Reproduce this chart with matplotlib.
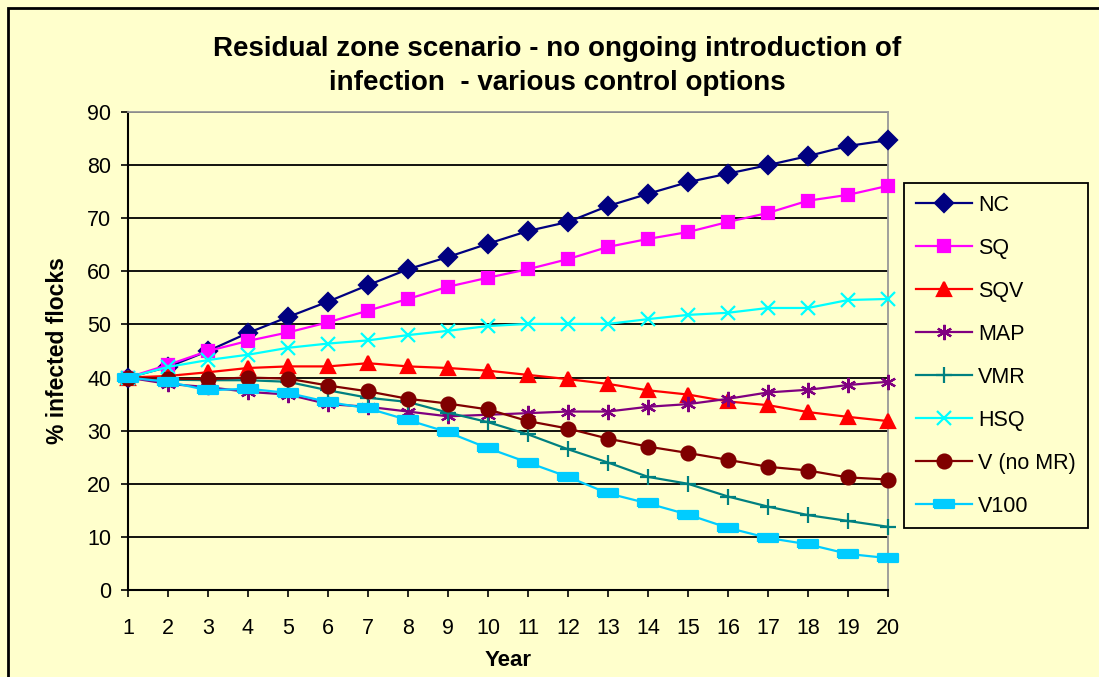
import matplotlib
matplotlib.use('Agg')
import matplotlib.pyplot as plt
from matplotlib.patches import Rectangle

plt.rcParams['font.family'] = ['Liberation Sans', 'DejaVu Sans']

# data
years = list(range(1, 21))
NC = [40, 42, 45, 48.4, 51.4, 54.3, 57.4, 60.4, 62.7, 65.2, 67.6, 69.3, 72.3, 74.6, 76.8, 78.4, 80, 81.7, 83.6, 84.7]
SQ = [40, 42.4, 45, 46.9, 48.5, 50.4, 52.6, 54.8, 57.1, 58.8, 60.4, 62.3, 64.6, 66.1, 67.4, 69.3, 71, 73.3, 74.4, 76.1]
SQV = [40, 40.3, 41, 41.8, 42.1, 42.1, 42.7, 42.1, 41.8, 41.3, 40.5, 39.7, 38.8, 37.6, 36.8, 35.5, 34.8, 33.5, 32.6, 31.8]
MAP = [40, 38.8, 38.2, 37.3, 36.8, 35, 34.5, 33.6, 32.7, 33, 33.3, 33.6, 33.6, 34.5, 35, 36, 37.2, 37.7, 38.6, 39.2]
VMR = [40, 39.6, 39.5, 39.5, 39.2, 37.6, 36.2, 35.4, 33.4, 31.6, 29.3, 26.5, 24, 21.3, 20, 17.6, 15.7, 14.1, 13, 11.9]
HSQ = [40, 42, 43.3, 44.3, 45.6, 46.4, 47, 48, 48.8, 49.7, 50.1, 50.1, 50.1, 51, 51.8, 52.2, 53.1, 53.1, 54.6, 54.8]
VnoMR = [40, 39.8, 39.7, 40, 39.8, 38.5, 37.4, 36, 35.1, 34, 31.8, 30.4, 28.5, 27, 25.8, 24.5, 23.2, 22.5, 21.2, 20.8]
V100 = [40, 39.2, 37.6, 37.9, 37.1, 35.4, 34.2, 32, 29.7, 26.7, 24, 21.3, 18.2, 16.3, 14.2, 11.7, 9.8, 8.6, 6.8, 6]

bg = '#FFFFCC'
dash = [(-1, -0.38), (1, -0.38), (1, 0.38), (-1, 0.38), (-1, -0.38)]

series = [
    ('NC', NC, '#000080', 'D', 9),
    ('SQ', SQ, '#FF00FF', 's', 9),
    ('SQV', SQV, '#FF0000', '^', 10),
    ('MAP', MAP, '#800080', (6, 2, 0), 11),
    ('VMR', VMR, '#008080', '+', 11),
    ('HSQ', HSQ, '#00FFFF', 'x', 10),
    ('V (no MR)', VnoMR, '#800000', 'o', 10),
    ('V100', V100, '#00CCFF', dash, 14),
]

fig = plt.figure(figsize=(10.99, 6.77), dpi=100, facecolor=bg)
ax = fig.add_axes([128/1099, 1-590/677, (888-128)/1099, (590-112)/677])
ax.set_facecolor(bg)

for name, vals, col, mk, ms in series:
    ax.plot(years, vals, color=col, lw=1.6, marker=mk, markersize=ms,
            markerfacecolor=col, markeredgecolor=col, markeredgewidth=1.6,
            label=name, clip_on=False, zorder=3)

ax.set_xlim(1, 20)
ax.set_ylim(0, 90)
ax.set_xticks(years)
ax.set_yticks(range(0, 91, 10))
ax.yaxis.grid(True, color='black', lw=1.3)
ax.set_axisbelow(True)
ax.tick_params(axis='both', direction='out', length=5, width=1.2, labelsize=15.5, colors='black')
ax.tick_params(axis='x', pad=15)
ax.tick_params(axis='y', pad=7)
for s in ['top', 'right']:
    ax.spines[s].set_color('#999999')
    ax.spines[s].set_linewidth(1.3)
for s in ['left', 'bottom']:
    ax.spines[s].set_color('black')
    ax.spines[s].set_linewidth(1.5)

ax.set_xlabel('Year', fontsize=16, fontweight='bold', labelpad=8)
ax.set_ylabel('% infected flocks', fontsize=16.5, fontweight='bold', labelpad=13)

fig.text(0.507, 1-66/677, 'Residual zone scenario - no ongoing introduction of\ninfection  - various control options',
         ha='center', va='center', fontsize=20, fontweight='bold', linespacing=1.35)

leg = ax.legend(loc='upper left', bbox_to_anchor=(904/1099, 1-183/677), bbox_transform=fig.transFigure,
                frameon=True, fancybox=False, fontsize=15.5, handlelength=2.6, labelspacing=1.02,
                borderpad=0.55, handletextpad=0.3, borderaxespad=0)
leg.get_frame().set_edgecolor('black')
leg.get_frame().set_facecolor(bg)
leg.get_frame().set_linewidth(1.3)
leg.get_frame().set_alpha(1)

fig.patches.append(Rectangle((8/1099, -0.05), 1.2, 1.05 - 8/677, transform=fig.transFigure,
                             fill=False, edgecolor='black', lw=2, clip_on=False))

fig.savefig('out.png', dpi=100, facecolor=bg)
